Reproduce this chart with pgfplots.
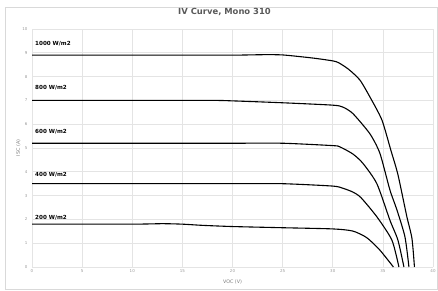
\documentclass[border=0pt]{standalone}
\usepackage{pgfplots}
\pgfplotsset{compat=1.18}
\usepackage{fontspec}
\setmainfont{DejaVu Sans}
\definecolor{gridc}{HTML}{E4E4E4}
\definecolor{tickc}{HTML}{9A9A9A}
\definecolor{titlec}{HTML}{595959}
\definecolor{borderc}{HTML}{D9D9D9}
\begin{document}
\begin{tikzpicture}
\useasboundingbox (0,0) rectangle (438pt,291pt);
\draw[borderc, line width=0.6pt] (5.5pt,2pt) rectangle (437pt,284pt);
\begin{axis}[
  at={(32pt,24pt)}, anchor=south west,
  scale only axis, width=401pt, height=238pt,
  xmin=0, xmax=40, ymin=0, ymax=10,
  xtick={0,5,...,40}, ytick={0,1,...,10},
  axis line style={draw=none},
  major tick length=0pt,
  grid=major, grid style={gridc, line width=0.6pt},
  tick label style={font=\fontsize{4}{5}\selectfont, text=tickc},
  /pgf/number format/assume math mode=true,
  xticklabel style={yshift=1pt},
  yticklabel style={xshift=-1pt},
  title={\textbf{IV Curve, Mono 310}},
  title style={at={(axis description cs:0.48,1.046)}, anchor=center, font=\fontsize{8.4}{10}\selectfont, text=titlec},
  xlabel={VOC (V)},
  xlabel style={at={(axis description cs:0.5,-0.063)}, anchor=center, font=\fontsize{4.8}{6}\selectfont, text=tickc!80!black},
  ylabel={ISC (A)},
  ylabel style={at={(axis description cs:-0.034,0.5)}, anchor=center, font=\fontsize{4.8}{6}\selectfont, text=tickc!80!black},
  every axis plot post/.append style={black, line width=1.1pt, smooth, tension=0.4, mark=none},
  clip=false,
]
\addplot coordinates {(0,8.9)(5,8.9)(10,8.9)(15,8.9)(20,8.9)(23,8.92)(25,8.91)(28,8.78)(30,8.66)(30.6,8.58)(31.6,8.3)(32.7,7.86)(33.7,7.15)(34.9,6.18)(35.8,4.9)(36.3,4.2)(36.6,3.7)(37.4,2.1)(37.9,1.2)(38.15,0)};
\addplot coordinates {(0,7.0)(10,7.0)(18,7.0)(20,6.98)(25,6.9)(30,6.8)(31,6.72)(32,6.45)(33.7,5.6)(34.7,4.78)(35.7,3.24)(36.4,2.4)(37.2,1.27)(37.6,0)};
\addplot coordinates {(0,5.2)(10,5.2)(20,5.2)(25,5.2)(30,5.1)(30.7,5.05)(32,4.75)(33,4.36)(34.4,3.5)(35.7,1.97)(36.5,1.13)(37.1,0)};
\addplot coordinates {(0,3.5)(10,3.5)(20,3.5)(25,3.5)(30,3.4)(31,3.31)(32,3.15)(32.8,2.92)(34.4,2.11)(35.9,1.13)(36.6,0)};
\addplot coordinates {(0,1.8)(10,1.8)(13,1.82)(15,1.8)(17,1.75)(20,1.7)(25,1.65)(30,1.6)(32,1.51)(33.4,1.23)(34.7,0.71)(36.05,0)};
\begin{scope}[every node/.style={anchor=west, inner sep=0pt, font=\bfseries\fontsize{5.6}{7}\selectfont}]
\node at (axis cs:0.3,9.37) {1000 W/m2};
\node at (axis cs:0.3,7.53) {800 W/m2};
\node at (axis cs:0.3,5.68) {600 W/m2};
\node at (axis cs:0.3,3.87) {400 W/m2};
\node at (axis cs:0.3,2.07) {200 W/m2};
\end{scope}
\end{axis}
\end{tikzpicture}
\end{document}
